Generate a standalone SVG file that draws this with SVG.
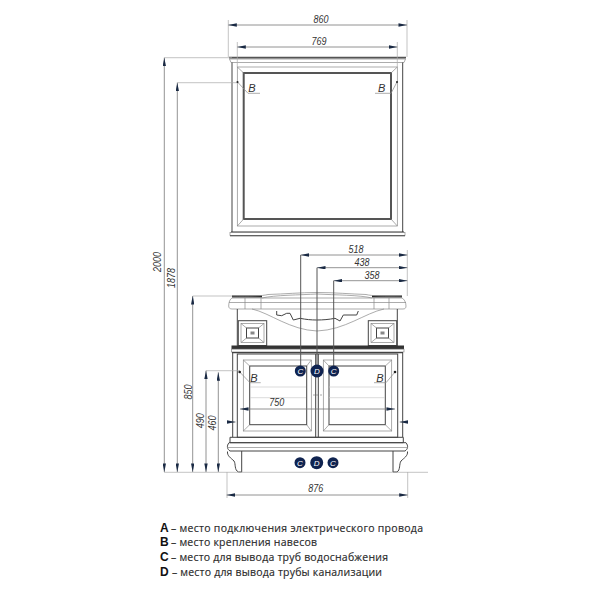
<svg xmlns="http://www.w3.org/2000/svg" width="600" height="600" viewBox="0 0 600 600">
<defs>
<marker id="a" viewBox="0 0 10 4" refX="10" refY="2" markerWidth="9" markerHeight="3.4" markerUnits="userSpaceOnUse" orient="auto-start-reverse"><path d="M10 2L0 0V4Z" fill="#1a2a44"/></marker>
</defs>
<style>
.dim{stroke:#777;stroke-width:.8;fill:none}
.ext{stroke:#aaa;stroke-width:.7;fill:none}
.th{stroke:#555;stroke-width:2;fill:none}
.md{stroke:#444;stroke-width:1;fill:none}
.tn{stroke:#888;stroke-width:.7;fill:none}
.fa{stroke:#ccc;stroke-width:.7;fill:none}
.t{font-family:"Liberation Sans",Arial,sans-serif;font-style:italic;font-size:11px;fill:#333;text-anchor:middle}
.ct{font-family:"Liberation Sans",Arial,sans-serif;font-style:italic;font-size:8px;fill:#fff;text-anchor:middle}
.dot{fill:#0f2350}
.lg{font-family:"Open Sans","Noto Sans",sans-serif;font-size:10.500px;fill:#2a2a2a;stroke:#2a2a2a;stroke-width:.15}
.lb{font-family:"Liberation Sans",Arial,sans-serif;font-weight:700;font-size:12px;fill:#111}
</style>
<rect width="600" height="600" fill="#fff"/>
<g id="mirror">
<path class="tn" d="M229.500 59H405.500L404 62.500H231Z"/>
<path d="M229 57.700H406" stroke="#555" stroke-width="1.800"/>
<path class="md" d="M232 62.500V232M402.700 62.500V232"/>
<rect class="tn" x="237.300" y="67" width="160" height="159"/>
<rect class="th" x="243.700" y="73" width="147.300" height="146"/>
<path class="tn" d="M237.300 67L243.700 73M397.300 67L391 73M237.300 226L243.700 219M397.300 226L391 219"/>
<path d="M231 232H404" stroke="#333" stroke-width="1.200"/>
<rect class="tn" x="230" y="232.500" width="175" height="3"/>
<path d="M230 235.800H405" stroke="#444" stroke-width="1"/>
</g>
<g id="vanity">
<path d="M232 296.500H262M372 296.500H402" stroke="#222" stroke-width="2.200"/>
<path class="tn" d="M232 296C250 296.500 262 296 268 294.500C285 294 300 292.500 317 292.500C335 292.500 350 294 366 294.500C372 296 385 296.500 402 296"/>
<path class="tn" d="M262 298C275 295 300 295 317 294C335 295 360 295 372 298"/>
<path class="tn" d="M232 298H402C404 299 406 302 406 306C406 308 405 309 403 309H232C230 309 228.700 308 228.700 306C228.700 302 230 299 232 298Z"/>
<path class="tn" d="M229 302.500H406M245 298V309M261 298V309M374 298V309M389 298V309"/>
<path class="md" d="M237.300 309V346M397.300 309V346"/>
<path class="tn" d="M252 309C270 313 290 330 317 331C345 330 365 313 384 309"/>
<path class="md" stroke-width=".8" d="M276.700 311V315L281.700 315.700L286.700 313.300H290L293.300 320L300 318.300C306 319.500 311 320 316.700 320C323 320 329 319.500 335 318.300L340 321L343.300 315H356.700L358.300 311"/>
<rect class="md" stroke-width="1.300" x="238.300" y="320.700" width="28.400" height="24.800"/>
<rect class="tn" x="241" y="323.500" width="23" height="19"/>
<rect class="md" x="246.500" y="328" width="12" height="10"/>
<rect x="250.500" y="331.500" width="4" height="3" fill="#888"/>
<path class="tn" d="M241 323.500L246.500 328M264 323.500L258.500 328M241 342.500L246.500 338M264 342.500L258.500 338"/>
<rect class="md" stroke-width="1.300" x="368.300" y="320.700" width="28.400" height="24.800"/>
<rect class="tn" x="371" y="323.500" width="23" height="19"/>
<rect class="md" x="376.500" y="328" width="12" height="10"/>
<rect x="380.500" y="331.500" width="4" height="3" fill="#888"/>
<path class="tn" d="M371 323.500L376.500 328M394 323.500L388.500 328M371 342.500L376.500 338M394 342.500L388.500 338"/>
<rect x="231.500" y="345.500" width="172.500" height="3.500" fill="#333"/>
<rect class="tn" x="231.500" y="349.200" width="172.500" height="2.800"/>
<path d="M232 352.700H403" stroke="#444" stroke-width="1.200"/>
<path class="md" d="M232.700 352.700V437M402.700 352.700V437"/>
<rect class="md" x="237.300" y="354" width="160.400" height="83.300" stroke-width="1.200"/>
<path class="md" d="M315.700 354V437.300M318.300 354V437.300"/>
<rect class="tn" x="243.300" y="360" width="68" height="71"/>
<rect class="md" x="249.700" y="366" width="57" height="58.700" stroke="#666" stroke-width="1.300"/>
<path class="tn" d="M243.300 360L249.700 366M311.300 360L306.700 366M243.300 431L249.700 424.700M311.300 431L306.700 424.700"/>
<rect class="tn" x="323.300" y="360" width="68.400" height="71"/>
<rect class="md" x="329" y="366" width="56.300" height="58.700" stroke="#666" stroke-width="1.300"/>
<path class="tn" d="M323.300 360L329 366M391.700 360L385.300 366M323.300 431L329 424.700M391.700 431L385.300 424.700"/>
<path class="fa" d="M250 387H306M250 397.700H306M329 387H385M329 397.700H385"/>
<path d="M313.500 395h1M316.500 395h1M320.500 395h1" stroke="#555" stroke-width="1"/>
<path class="md" d="M230 437.300H403.300V442.700H230Z"/>
<path class="md" stroke-width=".8" d="M229 442.700H406C408.500 446 408 449 405 451H230C227 449 226.500 446 229 442.700Z"/>
<path class="tn" d="M227 447.500H407.700"/>
<path class="md" stroke-width=".9" d="M227.500 451.500C227 456 231 458 234 461C236 464 234 470 238.500 472H241.700V451"/>
<path class="md" stroke-width=".9" d="M407.500 451.500C408 456 404 458 401 461C399 464 400.500 470 397 472H393V451"/>
</g>
<g id="connectors">
<path class="ext" d="M228.300 57V20M407 57V20M237.300 67V42M397.300 67V42M407.300 296V250M227 472V498M407.700 472V498"/>
<path class="ext" d="M164.300 57.700H232M177.300 82.700H238M192.700 296H232M206 370.700H240M164 472.300H428"/>
<path class="dim" marker-start="url(#a)" marker-end="url(#a)" d="M228.300 25H407"/>
<path class="dim" marker-start="url(#a)" marker-end="url(#a)" d="M237.300 47H397.300"/>
<path class="dim" marker-start="url(#a)" marker-end="url(#a)" d="M300.700 255H407.300"/>
<path class="dim" marker-start="url(#a)" marker-end="url(#a)" d="M317 267.700H407.300"/>
<path class="dim" marker-start="url(#a)" marker-end="url(#a)" d="M333.700 280.700H407.300"/>
<path class="dim" marker-start="url(#a)" marker-end="url(#a)" d="M240 409H395"/>
<path class="dim" marker-start="url(#a)" marker-end="url(#a)" d="M226.700 495H407.700"/>
<path class="dim" marker-start="url(#a)" marker-end="url(#a)" d="M164.300 57.700V472"/>
<path class="dim" marker-start="url(#a)" marker-end="url(#a)" d="M177.300 82.700V472"/>
<path class="dim" marker-start="url(#a)" marker-end="url(#a)" d="M192.700 296V472"/>
<path class="dim" marker-start="url(#a)" marker-end="url(#a)" d="M206 370.700V472"/>
<path class="dim" marker-start="url(#a)" marker-end="url(#a)" d="M218.300 372.300V472"/>
<path d="M300.700 255V366M317 267.700V366M333.700 280.700V366" stroke="#555" stroke-width="1" fill="none"/>
<path class="dim" marker-end="url(#a)" d="M227 422H235.500"/>
<path class="dim" marker-end="url(#a)" d="M408 422H399.700"/>
<path class="tn" d="M237.500 82L248 93.300H260M397 82L391 93.300H375M239.700 372L250 382.700H260.700M395 372L386 382.700H374"/>
<circle cx="239.700" cy="372" r="1.300" fill="#222"/><circle cx="395" cy="372" r="1.300" fill="#222"/>
<circle cx="237.500" cy="82" r="1" fill="#222"/><circle cx="397" cy="82" r="1" fill="#222"/>
</g>
<g id="dimension-labels">
<text class="t" x="321" y="23" textLength="15" lengthAdjust="spacingAndGlyphs">860</text>
<text class="t" x="319" y="44.500" textLength="15" lengthAdjust="spacingAndGlyphs">769</text>
<text class="t" x="356" y="253" textLength="15" lengthAdjust="spacingAndGlyphs">518</text>
<text class="t" x="362" y="266" textLength="15" lengthAdjust="spacingAndGlyphs">438</text>
<text class="t" x="372" y="279" textLength="15" lengthAdjust="spacingAndGlyphs">358</text>
<text class="t" x="276.700" y="406" textLength="15" lengthAdjust="spacingAndGlyphs">750</text>
<text class="t" x="315.700" y="492" textLength="15" lengthAdjust="spacingAndGlyphs">876</text>
<text class="t" transform="translate(160.500 262) rotate(-90)" textLength="20" lengthAdjust="spacingAndGlyphs">2000</text>
<text class="t" transform="translate(174.500 278) rotate(-90)" textLength="20" lengthAdjust="spacingAndGlyphs">1878</text>
<text class="t" transform="translate(191.500 392) rotate(-90)" textLength="15" lengthAdjust="spacingAndGlyphs">850</text>
<text class="t" transform="translate(204 420.700) rotate(-90)" textLength="15" lengthAdjust="spacingAndGlyphs">490</text>
<text class="t" transform="translate(216 423) rotate(-90)" textLength="15" lengthAdjust="spacingAndGlyphs">460</text>
<text class="t" x="252" y="92">B</text>
<text class="t" x="381.700" y="92">B</text>
<text class="t" x="254" y="382">B</text>
<text class="t" x="380" y="382">B</text>
</g>
<g id="markers">
<circle class="dot" cx="300.300" cy="371" r="5.500"/><text class="ct" x="300.300" y="374">C</text>
<circle class="dot" cx="317" cy="371" r="6.500"/><text class="ct" x="317" y="374">D</text>
<circle class="dot" cx="333.700" cy="371" r="5.500"/><text class="ct" x="333.700" y="374">C</text>
<circle class="dot" cx="300" cy="462.700" r="5.500"/><text class="ct" x="300" y="465.700">C</text>
<circle class="dot" cx="316.700" cy="462.700" r="6.500"/><text class="ct" x="316.700" y="465.700">D</text>
<circle class="dot" cx="333" cy="462.700" r="5.500"/><text class="ct" x="333" y="465.700">C</text>
</g>
<g id="legend">
<text class="lb" x="160" y="531.500">A</text><text class="lg" x="171" y="531.500" textLength="252">– место подключения электрического провода</text>
<text class="lb" x="160" y="546">B</text><text class="lg" x="171" y="546" textLength="146">– место крепления навесов</text>
<text class="lb" x="160" y="561">C</text><text class="lg" x="171" y="561" textLength="217">– место для вывода труб водоснабжения</text>
<text class="lb" x="160" y="575.500">D</text><text class="lg" x="172" y="575.500" textLength="210">– место для вывода трубы канализации</text>
</g>
</svg>
